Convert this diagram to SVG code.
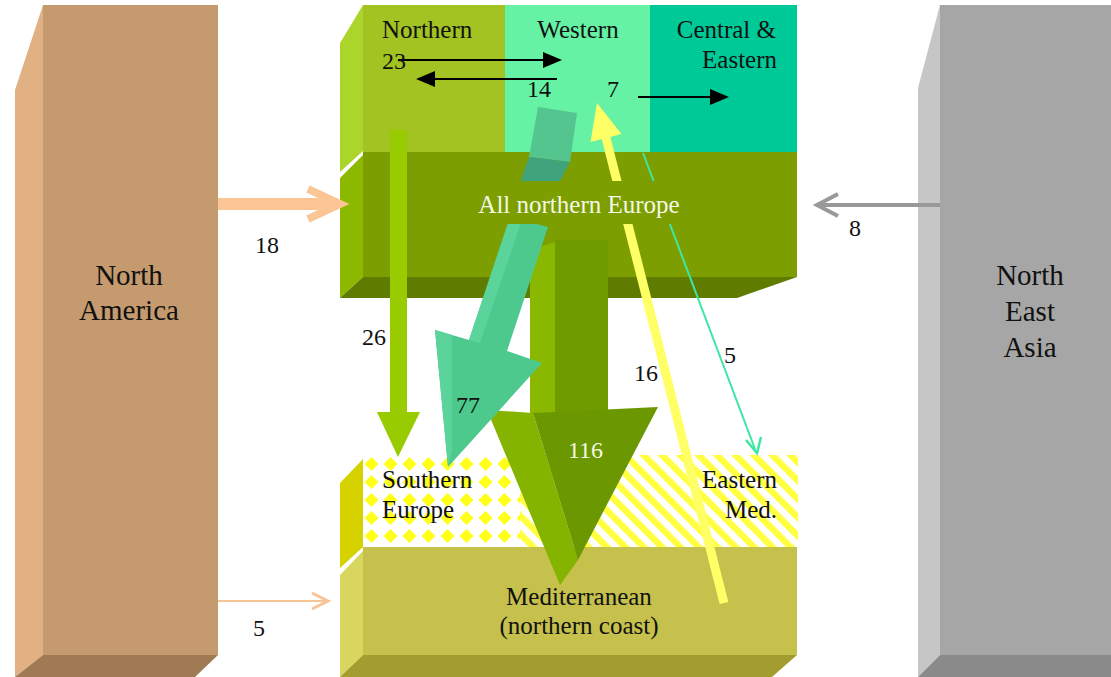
<svg xmlns="http://www.w3.org/2000/svg" width="1111" height="677" viewBox="0 0 1111 677" font-family="'Liberation Serif', 'DejaVu Serif', serif">
<defs>
<style>
text{font-family:"Liberation Serif","DejaVu Serif",serif;fill:#111}
.lbl{font-size:25px}
.big{font-size:29px}
.num{font-size:24px}
.wht{fill:#f4f8e4}
</style>
<pattern id="diam" patternUnits="userSpaceOnUse" x="362" y="455" width="19" height="18">
<rect width="19" height="18" fill="#ffffff"/>
<polygon points="9.5,2 16.5,9 9.5,16 2.5,9" fill="#ffff1a"/>
</pattern>
<pattern id="stripe" patternUnits="userSpaceOnUse" width="13" height="13" patternTransform="rotate(-45)">
<rect width="13" height="13" fill="#ffffff"/>
<rect width="6.5" height="13" fill="#ffff40"/>
</pattern>
</defs>
<rect width="1111" height="677" fill="#ffffff"/>

<g id="north-america">
<polygon points="15,90 43,5 43,655 15,677" fill="#e1b083"/>
<polygon points="43,655 218,655 195,677 15,677" fill="#a07a52"/>
<rect x="43" y="5" width="175" height="650" fill="#c49a6e"/>
<text class="big" x="129" y="285" text-anchor="middle">North</text>
<text class="big" x="129" y="320" text-anchor="middle">America</text>
</g>

<g id="north-east-asia">
<polygon points="918,88 940,5 940,655 918,677" fill="#c6c6c6"/>
<polygon points="940,655 1111,655 1111,677 918,677" fill="#8a8a8a"/>
<rect x="940" y="5" width="171" height="650" fill="#a6a6a6"/>
<text class="big" x="1030" y="285" text-anchor="middle">North</text>
<text class="big" x="1030" y="321" text-anchor="middle">East</text>
<text class="big" x="1030" y="357" text-anchor="middle">Asia</text>
</g>

<g id="top-block">
<polygon points="340,43 363,5 363,151 340,172" fill="#acd52c"/>
<rect id="northern" x="363" y="5" width="142" height="147" fill="#a2c322"/>
<rect id="western" x="505" y="5" width="145" height="147" fill="#66f2a4"/>
<rect id="central-eastern" x="650" y="5" width="147" height="147" fill="#00c998"/>
<text class="lbl" x="382" y="38">Northern</text>
<text class="lbl" x="578" y="38" text-anchor="middle">Western</text>
<text class="lbl" x="776" y="38" text-anchor="end">Central &amp;</text>
<text class="lbl" x="777" y="68" text-anchor="end">Eastern</text>
</g>

<g id="all-northern-europe">
<polygon points="340,178 363,155 363,277 340,298" fill="#8db800"/>
<rect x="363" y="152" width="434" height="125" fill="#7c9e00"/>
<polygon points="363,277 797,277 737,298 340,298" fill="#5f7c00"/>
</g>

<g id="southern-eastern-med">
<polygon points="340,483 363,459 363,547 340,568" fill="#d6d200"/>
<rect id="southern-europe" x="363" y="455" width="157" height="92" fill="url(#diam)"/>
<rect id="eastern-med" x="520" y="455" width="278" height="92" fill="url(#stripe)"/>
</g>

<g id="mediterranean">
<polygon points="340,575 363,551 363,655 340,677" fill="#d9d660"/>
<rect x="363" y="547" width="434" height="108" fill="#c6c04c"/>
<polygon points="363,655 797,655 772,677 340,677" fill="#a39d30"/>
</g>

<g id="connectors">
<line x1="218" y1="204" x2="338" y2="204" stroke="#fbc596" stroke-width="12"/>
<polyline points="308,189 340,204 308,219" fill="none" stroke="#fbc596" stroke-width="8"/>
<line x1="218" y1="601" x2="326" y2="601" stroke="#f8c496" stroke-width="2"/>
<polyline points="312,593 328,601 312,609" fill="none" stroke="#f8c496" stroke-width="3"/>
<line x1="940" y1="205" x2="820" y2="205" stroke="#999999" stroke-width="4"/>
<polyline points="838,194 817,205 838,216" fill="none" stroke="#999999" stroke-width="4"/>
<line x1="398" y1="60" x2="546" y2="60" stroke="#000" stroke-width="2"/>
<polygon points="543,52 562,60 543,68" fill="#000"/>
<line x1="557" y1="79" x2="432" y2="79" stroke="#000" stroke-width="2"/>
<polygon points="435,71 416,79 435,87" fill="#000"/>
<line x1="638" y1="97" x2="712" y2="97" stroke="#000" stroke-width="2"/>
<polygon points="710,89 729,97 710,105" fill="#000"/>
<rect x="390" y="130" width="17" height="283" fill="#99cc00"/>
<polygon points="377,412 420,412 398,457" fill="#99cc00"/>
<polygon points="530,250 555,242 555,415 530,415" fill="#8ab800"/>
<rect x="555" y="240" width="53" height="175" fill="#6f9a00"/>
<polygon points="487,410 533,413 578,560 560,585" fill="#84b300"/>
<polygon points="533,413 658,407 578,560" fill="#6b9800"/>
<polygon points="538,107 577,113 570,162 529,157" fill="#55c590"/>
<polygon points="529,157 570,162 557,187 520,183" fill="#3fa37c"/>
<polygon points="510,217 548,227 507,351 542,363 448,467 435,330 469,340" fill="#4dc98e"/>
<polygon points="510,217 522,220 480,343 469,340" fill="#5ad49a"/>
<polygon points="435,330 452,335 452,450 448,467" fill="#5ad49a"/>
<line x1="724" y1="603" x2="605" y2="134" stroke="#ffff66" stroke-width="9"/>
<polygon points="597,103 621.5,134 590.5,142" fill="#ffff66"/>
<line x1="643" y1="153" x2="755" y2="449" stroke="#3ee6a4" stroke-width="2"/>
<polyline points="746,440 757,453 761,437" fill="none" stroke="#3ee6a4" stroke-width="2.5"/>
</g>

<g id="labels">
<rect x="470" y="181" width="228" height="43" fill="#7c9e00"/>
<text class="lbl wht" x="579" y="213" text-anchor="middle">All northern Europe</text>
<text class="num" x="382" y="69">23</text>
<text class="num" x="527" y="97">14</text>
<text class="num" x="607" y="97">7</text>
<text class="num" x="362" y="345">26</text>
<text class="num" x="456" y="413">77</text>
<text class="num wht" x="568" y="458">116</text>
<text class="num" x="634" y="381">16</text>
<text class="num" x="724" y="363">5</text>
<text class="num" x="255" y="253">18</text>
<text class="num" x="253" y="636">5</text>
<text class="num" x="849" y="236">8</text>
<text class="lbl" x="382" y="488">Southern</text>
<text class="lbl" x="382" y="518">Europe</text>
<text class="lbl" x="777" y="488" text-anchor="end">Eastern</text>
<text class="lbl" x="777" y="518" text-anchor="end">Med.</text>
<text class="lbl" x="579" y="605" text-anchor="middle">Mediterranean</text>
<text class="lbl" x="579" y="634" text-anchor="middle">(northern coast)</text>
</g>
</svg>
